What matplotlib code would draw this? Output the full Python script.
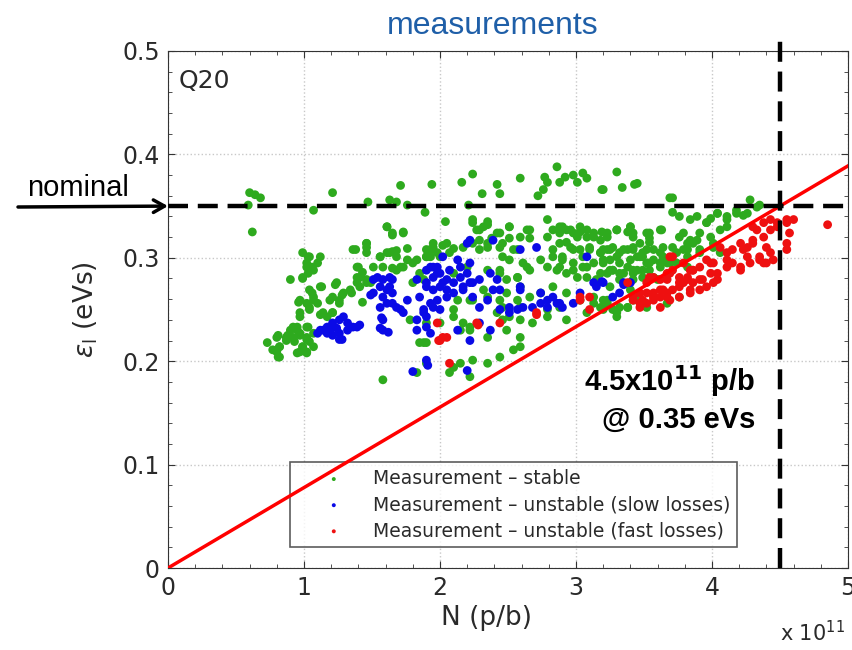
import numpy as np
import matplotlib
matplotlib.use("Agg")
import matplotlib.pyplot as plt
from matplotlib.ticker import MultipleLocator

# (N in 1e11 p/b, longitudinal emittance in eVs)
stable_pts = [
    (0.60, 0.363), (0.64, 0.361), (0.68, 0.358), (0.59, 0.351), (0.62, 0.325),
    (1.07, 0.346), (1.21, 0.363), (1.71, 0.370), (1.94, 0.371), (1.47, 0.354), (1.63, 0.356),
    (1.68, 0.354), (1.76, 0.351), (1.89, 0.344),
    (1.61, 0.330), (1.65, 0.324), (1.73, 0.325), (1.46, 0.314), (1.38, 0.308), (1.46, 0.310),
    (1.56, 0.301), (1.63, 0.305), (1.68, 0.307), (1.76, 0.309), (1.93, 0.308), (1.98, 0.305), (1.90, 0.301),
    (0.99, 0.305), (1.03, 0.301), (1.12, 0.301), (1.02, 0.295), (1.06, 0.291), (1.03, 0.285), (0.99, 0.280),
    (0.90, 0.279),
    (1.40, 0.291), (1.43, 0.286), (1.39, 0.281), (1.46, 0.279), (1.41, 0.272), (1.49, 0.276), (1.51, 0.291),
    (1.65, 0.290), (1.71, 0.291),
    (1.13, 0.272), (1.23, 0.274), (1.28, 0.264), (1.21, 0.262), (1.06, 0.266), (1.07, 0.259), (1.04, 0.252),
    (0.96, 0.257), (0.97, 0.247),
    (1.26, 0.256), (1.35, 0.266), (1.43, 0.257), (1.12, 0.245), (1.17, 0.243), (1.21, 0.247),
    (0.92, 0.233), (0.95, 0.230), (0.97, 0.225), (1.02, 0.223), (1.03, 0.233), (1.04, 0.219), (0.99, 0.214),
    (0.97, 0.209), (1.02, 0.209), (0.93, 0.219), (0.88, 0.225), (0.81, 0.225), (0.87, 0.220), (0.82, 0.214),
    (0.80, 0.209), (0.81, 0.204), (0.73, 0.218), (1.07, 0.214),
    (1.88, 0.218), (1.90, 0.218), (1.83, 0.189), (1.58, 0.182), (1.78, 0.240), (1.83, 0.298),
    (2.16, 0.373), (2.24, 0.381), (2.31, 0.362), (2.42, 0.371), (2.44, 0.362), (2.59, 0.377), (2.77, 0.378),
    (2.79, 0.373), (2.86, 0.388), (2.88, 0.373), (2.92, 0.378), (2.98, 0.380), (3.01, 0.373), (3.05, 0.382),
    (3.08, 0.377), (2.76, 0.366), (2.72, 0.360), (3.19, 0.366), (3.30, 0.383), (3.34, 0.368), (3.45, 0.372),
    (2.21, 0.351), (3.71, 0.358), (3.71, 0.344),
    (2.04, 0.335), (1.90, 0.308), (1.95, 0.310), (2.02, 0.312), (2.10, 0.309), (2.17, 0.310), (2.24, 0.314),
    (2.29, 0.308), (2.35, 0.310), (2.38, 0.319), (2.44, 0.310), (2.46, 0.301),
    (2.24, 0.337), (2.32, 0.330), (2.35, 0.335), (2.42, 0.324), (2.27, 0.327), (2.51, 0.330), (2.64, 0.327),
    (2.66, 0.319), (2.51, 0.319), (2.57, 0.308),
    (2.79, 0.337), (2.88, 0.324), (2.90, 0.330), (2.96, 0.327), (3.01, 0.320), (2.93, 0.315), (3.03, 0.325),
    (3.08, 0.327), (3.13, 0.320), (3.19, 0.325), (3.23, 0.320), (3.30, 0.327), (3.38, 0.325), (3.42, 0.320),
    (3.47, 0.314), (3.54, 0.319),
    (2.83, 0.308), (2.90, 0.301), (2.98, 0.308), (3.05, 0.301), (3.10, 0.310), (3.18, 0.305), (3.23, 0.308),
    (3.30, 0.301), (3.38, 0.308), (3.45, 0.301), (3.52, 0.308), (3.62, 0.305), (3.71, 0.310), (3.79, 0.308),
    (3.86, 0.314),
    (2.88, 0.291), (2.98, 0.288), (3.08, 0.291), (3.18, 0.285), (3.27, 0.288), (3.35, 0.285), (3.42, 0.288),
    (3.52, 0.295), (3.62, 0.295),
    (1.88, 0.279), (2.10, 0.285), (2.20, 0.291), (2.35, 0.288), (2.44, 0.285), (2.57, 0.281), (2.64, 0.291),
    (2.74, 0.298), (2.49, 0.266), (2.57, 0.259), (2.66, 0.262), (2.46, 0.252), (2.51, 0.243), (2.42, 0.247),
    (2.24, 0.259), (2.32, 0.269), (2.13, 0.259), (2.10, 0.243), (2.00, 0.237), (1.90, 0.237), (2.15, 0.230),
    (2.22, 0.233), (2.35, 0.223), (2.49, 0.230), (2.59, 0.223), (2.68, 0.237), (2.79, 0.243), (2.93, 0.240),
    (3.08, 0.247), (3.18, 0.252), (3.27, 0.250), (3.32, 0.252), (3.42, 0.259), (3.52, 0.252), (3.57, 0.262),
    (3.67, 0.256), (3.76, 0.262), (3.13, 0.262),
    (1.85, 0.218), (1.90, 0.198), (2.10, 0.194), (2.15, 0.198), (2.24, 0.201), (2.35, 0.198), (2.44, 0.204),
    (2.54, 0.211), (2.59, 0.214), (2.22, 0.185), (2.07, 0.189),
    (3.20, 0.366), (3.43, 0.371), (3.69, 0.358), (3.76, 0.340), (3.84, 0.337), (3.89, 0.340), (3.99, 0.338),
    (4.04, 0.343), (4.11, 0.340), (4.18, 0.343), (4.23, 0.341), (4.28, 0.356), (4.35, 0.351),
    (3.23, 0.324), (3.40, 0.330), (3.42, 0.324), (3.54, 0.324), (3.54, 0.315), (3.63, 0.327), (3.79, 0.324),
    (3.82, 0.314), (3.89, 0.317), (3.96, 0.334), (3.99, 0.320), (4.06, 0.327), (4.11, 0.330),
    (3.25, 0.308), (3.32, 0.305), (3.42, 0.308), (3.49, 0.301), (3.57, 0.298), (3.64, 0.301), (3.69, 0.295),
    (3.74, 0.305), (3.82, 0.308), (3.91, 0.308), (4.01, 0.310), (4.06, 0.305), (3.20, 0.295), (3.27, 0.288),
    (3.38, 0.291), (3.45, 0.288), (3.49, 0.281), (3.54, 0.288), (3.60, 0.279), (3.42, 0.279), (3.32, 0.279),
    (3.25, 0.272), (3.23, 0.256), (3.30, 0.247), (3.38, 0.252), (3.45, 0.262), (3.40, 0.269),
    # denser band, second pass
    (1.95, 0.314), (2.05, 0.314), (1.93, 0.301), (2.00, 0.301), (2.07, 0.305),
    (2.24, 0.334), (2.29, 0.327), (2.35, 0.332), (2.44, 0.324), (2.51, 0.330), (2.59, 0.320), (2.66, 0.327),
    (2.35, 0.314), (2.46, 0.314), (2.54, 0.308), (2.29, 0.317), (2.51, 0.298), (2.61, 0.295), (2.66, 0.288),
    (2.57, 0.281), (2.44, 0.288), (2.49, 0.279), (2.59, 0.272),
    (2.79, 0.320), (2.83, 0.327), (2.88, 0.330), (2.93, 0.327), (2.98, 0.324), (3.03, 0.330), (3.08, 0.320),
    (3.13, 0.324), (3.18, 0.317), (2.88, 0.314), (2.96, 0.310), (3.03, 0.308), (3.10, 0.308), (3.18, 0.305),
    (2.83, 0.301), (2.90, 0.298), (2.98, 0.295), (3.05, 0.291), (3.13, 0.295), (3.20, 0.298), (2.79, 0.291),
    (2.86, 0.288), (2.93, 0.285), (3.01, 0.281), (3.08, 0.281), (3.15, 0.279), (3.23, 0.285),
    (2.22, 0.259), (2.35, 0.262), (2.44, 0.259), (2.59, 0.252), (2.74, 0.266), (2.83, 0.272), (2.93, 0.266),
    (3.03, 0.259), (3.13, 0.256), (3.20, 0.259), (2.10, 0.250), (2.17, 0.237), (2.22, 0.230), (2.46, 0.240),
    (2.59, 0.240), (2.79, 0.250), (2.88, 0.252),
    (3.30, 0.327), (3.40, 0.330), (3.52, 0.324), (3.62, 0.327), (3.20, 0.308), (3.27, 0.310), (3.35, 0.308),
    (3.42, 0.310), (3.49, 0.305), (3.57, 0.308), (3.64, 0.310), (3.25, 0.298), (3.32, 0.295), (3.40, 0.298),
    (3.47, 0.301), (3.54, 0.295), (3.62, 0.291), (3.25, 0.288), (3.32, 0.285), (3.42, 0.285), (3.49, 0.288),
    (3.57, 0.281), (3.67, 0.295), (3.76, 0.320), (3.84, 0.317), (3.91, 0.324), (3.96, 0.334), (4.04, 0.343),
    (4.11, 0.337), (4.18, 0.346), (4.26, 0.343), (4.33, 0.349), (4.01, 0.314), (3.91, 0.305), (3.82, 0.301),
    (3.74, 0.295), (3.82, 0.291), (3.23, 0.259), (3.30, 0.243), (3.38, 0.252), (3.20, 0.250),
    (1.04, 0.301), (1.10, 0.295), (1.02, 0.291), (1.07, 0.288), (0.99, 0.281),
    (1.04, 0.269), (1.07, 0.262), (1.12, 0.272), (1.02, 0.256), (0.97, 0.259), (1.04, 0.250), (1.10, 0.256),
    (1.19, 0.259), (1.24, 0.276), (1.29, 0.266), (1.34, 0.269), (1.26, 0.259), (1.14, 0.247), (1.21, 0.247),
    (0.97, 0.243), (0.95, 0.233), (1.02, 0.233), (0.97, 0.227), (1.02, 0.221), (1.07, 0.227), (0.92, 0.223),
    (0.99, 0.214), (0.87, 0.223), (0.80, 0.223), (0.82, 0.214), (0.77, 0.211), (0.82, 0.204), (1.02, 0.208),
    (0.95, 0.208), (0.90, 0.230),
    (1.36, 0.308), (1.46, 0.314), (1.46, 0.305), (1.56, 0.301), (1.61, 0.305), (1.65, 0.306), (1.68, 0.301),
    (1.76, 0.298), (1.61, 0.330), (1.65, 0.322), (1.73, 0.324), (1.39, 0.291), (1.41, 0.281), (1.46, 0.276),
    (1.39, 0.276), (1.58, 0.291), (1.68, 0.288), (1.73, 0.291), (1.80, 0.295), (1.85, 0.285), (1.80, 0.276),
    (1.90, 0.301),
]

slow_pts = [
    (1.12, 0.230), (1.17, 0.233), (1.21, 0.237), (1.26, 0.240), (1.32, 0.237), (1.36, 0.233), (1.41, 0.235),
    (1.26, 0.227), (1.21, 0.225), (1.28, 0.221), (1.32, 0.230), (1.19, 0.230), (1.10, 0.227), (1.24, 0.232),
    (1.17, 0.227), (1.29, 0.243), (1.14, 0.230), (1.34, 0.233), (1.39, 0.233), (1.26, 0.221),
    (1.54, 0.281), (1.58, 0.279), (1.63, 0.281), (1.56, 0.272), (1.61, 0.269), (1.65, 0.266), (1.51, 0.266),
    (1.58, 0.262), (1.63, 0.272), (1.65, 0.279), (1.49, 0.264), (1.51, 0.279),
    (1.56, 0.252), (1.61, 0.256), (1.65, 0.256), (1.71, 0.250), (1.76, 0.259), (1.73, 0.247), (1.68, 0.252),
    (1.57, 0.242), (1.56, 0.232), (1.62, 0.228), (1.58, 0.240), (1.58, 0.230),
    (1.80, 0.190), (1.91, 0.196),
    (1.83, 0.279), (1.90, 0.272), (1.85, 0.262), (1.88, 0.247), (1.83, 0.240), (1.95, 0.252), (1.90, 0.233),
    (1.93, 0.227), (1.83, 0.230), (1.95, 0.291), (1.98, 0.285),
    (1.90, 0.288), (1.95, 0.281), (2.00, 0.285), (2.05, 0.279), (2.10, 0.276), (2.15, 0.281), (2.20, 0.285),
    (2.22, 0.276), (2.00, 0.272), (2.05, 0.269), (1.95, 0.269), (2.10, 0.266), (2.17, 0.269), (2.24, 0.262),
    (1.90, 0.276), (2.22, 0.295), (2.15, 0.291), (1.98, 0.291), (2.13, 0.298), (2.02, 0.301),
    (1.93, 0.291), (2.07, 0.288), (2.02, 0.276), (2.17, 0.272), (2.24, 0.276), (2.29, 0.279), (2.37, 0.285),
    (2.05, 0.262), (1.98, 0.259), (2.20, 0.314),
    (2.22, 0.317), (2.39, 0.317), (2.59, 0.308), (2.71, 0.310), (3.08, 0.301),
    (1.93, 0.256), (2.00, 0.250), (1.90, 0.243), (1.88, 0.250), (2.29, 0.252), (2.39, 0.269),
    (2.35, 0.259), (2.42, 0.279), (2.44, 0.269), (2.59, 0.269),
    (2.44, 0.250), (2.51, 0.247), (2.57, 0.250), (2.61, 0.252), (2.68, 0.252), (2.74, 0.256), (2.79, 0.252),
    (2.86, 0.256), (2.90, 0.252), (2.83, 0.262), (2.74, 0.266), (2.59, 0.272), (2.98, 0.256), (3.03, 0.266),
    (3.13, 0.276), (3.20, 0.276), (3.27, 0.262), (3.32, 0.266), (3.35, 0.276),
    (2.51, 0.252), (2.79, 0.259), (2.88, 0.256), (3.15, 0.272), (3.35, 0.274),
    (2.22, 0.220), (2.20, 0.191), (1.90, 0.201), (2.29, 0.237), (2.37, 0.230), (2.13, 0.230),
    (3.19, 0.277), (3.40, 0.276),
]

fast_pts = [
    (1.98, 0.237), (1.99, 0.220), (2.00, 0.220), (2.05, 0.223), (2.07, 0.198), (2.27, 0.237), (2.44, 0.237),
    (2.71, 0.247), (3.03, 0.262), (3.10, 0.262), (3.38, 0.276), (3.03, 0.259), (3.10, 0.250), (2.71, 0.245),
    (2.28, 0.235), (2.02, 0.223),
    (3.42, 0.262), (3.47, 0.266), (3.52, 0.276), (3.57, 0.281), (3.62, 0.269), (3.67, 0.285), (3.71, 0.288),
    (3.76, 0.276), (3.82, 0.281), (3.86, 0.288), (3.71, 0.301), (3.57, 0.262), (3.67, 0.262), (3.52, 0.256),
    (3.69, 0.301), (3.79, 0.295), (3.86, 0.288), (3.91, 0.291), (3.96, 0.298), (4.01, 0.295), (4.06, 0.310),
    (4.11, 0.305), (4.15, 0.308), (4.21, 0.314), (4.26, 0.310), (4.30, 0.317), (4.33, 0.327), (4.38, 0.334),
    (4.43, 0.337), (4.48, 0.334), (4.55, 0.337), (4.60, 0.337), (4.57, 0.324), (4.55, 0.314), (4.55, 0.308),
    (4.40, 0.310), (4.35, 0.301), (4.45, 0.298), (4.38, 0.295), (4.21, 0.288), (4.15, 0.295), (4.11, 0.298),
    (3.99, 0.285), (4.04, 0.279), (3.91, 0.279), (3.86, 0.276), (3.82, 0.279), (3.76, 0.272), (3.71, 0.269),
    (3.67, 0.266), (3.62, 0.262), (3.57, 0.259), (3.52, 0.266), (3.47, 0.256), (3.42, 0.259), (3.62, 0.252),
    (3.54, 0.279), (3.67, 0.279), (3.76, 0.281), (3.84, 0.269), (3.91, 0.269), (3.96, 0.272), (4.85, 0.332),
    (4.30, 0.330), (4.26, 0.301),
    (3.54, 0.281), (3.62, 0.279), (3.69, 0.285), (3.84, 0.288), (3.99, 0.295), (4.04, 0.285), (4.11, 0.291),
    (4.23, 0.308), (4.30, 0.314), (4.38, 0.320), (4.43, 0.327), (4.48, 0.330), (4.55, 0.334), (4.21, 0.291),
    (4.28, 0.295), (4.35, 0.298), (4.43, 0.305), (4.40, 0.295), (3.49, 0.259), (3.57, 0.266), (3.64, 0.269),
    (3.79, 0.276), (3.93, 0.279), (4.01, 0.276), (3.47, 0.252), (3.69, 0.259), (3.76, 0.262),
    (3.84, 0.266),
]

nominal_eps = 0.35
nominal_n = 4.5
limit_n = [0, 5]

plt.rcParams['font.family'] = ['DejaVu Sans']
narrow = ['Liberation Sans Narrow', 'Liberation Sans', 'DejaVu Sans']
txt_col = '#2a2a2a'

fig = plt.figure(figsize=(8.52, 6.5), dpi=100)
ax = fig.add_axes([168 / 852, 1 - 568 / 650, 680 / 852, 517 / 650])

s_arr = np.array(stable_pts)
b_arr = np.array(slow_pts)
r_arr = np.array(fast_pts)
ax.scatter(s_arr[:, 0], s_arr[:, 1], s=40, color='#2eaa1e', edgecolors='none', zorder=3,
           label='Measurement \u2013 stable')
ax.scatter(b_arr[:, 0], b_arr[:, 1], s=40, color='#0a0ae6', edgecolors='none', zorder=4,
           label='Measurement \u2013 unstable (slow losses)')
ax.scatter(r_arr[:, 0], r_arr[:, 1], s=40, color='#ee1010', edgecolors='none', zorder=5,
           label='Measurement \u2013 unstable (fast losses)')

# constant emittance/intensity line through the nominal point
slope = nominal_eps / nominal_n
ax.plot(limit_n, [slope * n for n in limit_n], color='red', lw=2.5, zorder=6)

ax.axhline(nominal_eps, color='black', lw=3.2, ls=(0, (4.5, 2.2)), zorder=7)
ax.plot([nominal_n, nominal_n], [0, 0.515], color='black', lw=3.2, ls=(0, (4.5, 2.2)),
        zorder=7, clip_on=False)

ax.set_xlim(0, 5)
ax.set_ylim(0, 0.5)
ax.xaxis.set_major_locator(MultipleLocator(1))
ax.xaxis.set_minor_locator(MultipleLocator(0.2))
ax.yaxis.set_minor_locator(MultipleLocator(0.02))
ax.set_yticks([0, 0.1, 0.2, 0.3, 0.4, 0.5])
ax.set_yticklabels(['0', '0.1', '0.2', '0.3', '0.4', '0.5'])
ax.tick_params(which='both', direction='in', top=True, right=True, labelsize=17,
               color='#333333', labelcolor=txt_col)
ax.tick_params(which='major', length=5, pad=6)
ax.tick_params(which='minor', length=3)
ax.grid(True, which='major', ls=':', color='#c8c8c8', lw=1)
for sp in ax.spines.values():
    sp.set_color('#333333')

ax.set_xlabel('N (p/b)', fontsize=19, color=txt_col)
ax.xaxis.set_label_coords(0.469, -0.072)
ax.set_ylabel(r'$\varepsilon_\mathrm{l}$ (eVs)', fontsize=19, color=txt_col)
ax.yaxis.set_label_coords(-0.100, 0.5)
ax.text(0.015, 0.965, 'Q20', transform=ax.transAxes, fontsize=18, va='top', ha='left', color=txt_col)

leg = ax.legend(loc='lower left', bbox_to_anchor=(0.179, 0.041), fontsize=13.5, markerscale=0.45,
                frameon=True, fancybox=False, edgecolor='#333333', handletextpad=0.1,
                borderpad=0.35, labelspacing=0.38, handlelength=4.0, borderaxespad=0)
leg.get_frame().set_linewidth(1.2)
for t in leg.get_texts():
    t.set_color(txt_col)

ax.text(4.32, 0.198, r'4.5x10$^{\mathbf{11}}$ p/b' + '\n@ 0.35 eVs', ha='right', va='top',
        fontsize=21, fontweight='bold', family=narrow, linespacing=1.3)

fig.text(812 / 852, 1 - 633 / 650, r'x 10$^{11}$', fontsize=15, ha='center', va='center', color=txt_col)
fig.text(493 / 852, 1 - 26 / 650, 'measurements', fontsize=23, ha='center', va='center',
         color='#1f5fa8', family=narrow)
fig.text(78 / 852, 1 - 188 / 650, 'nominal', fontsize=21, ha='center', va='center', family=narrow)
ax.annotate('', xy=(0, nominal_eps), xycoords='data', xytext=(18 / 852, 1 - 207 / 650),
            textcoords='figure fraction',
            arrowprops=dict(arrowstyle='->,head_length=0.8,head_width=0.45', color='black', lw=2.5,
                            shrinkA=0, shrinkB=0))

fig.savefig('out.png', dpi=100)
